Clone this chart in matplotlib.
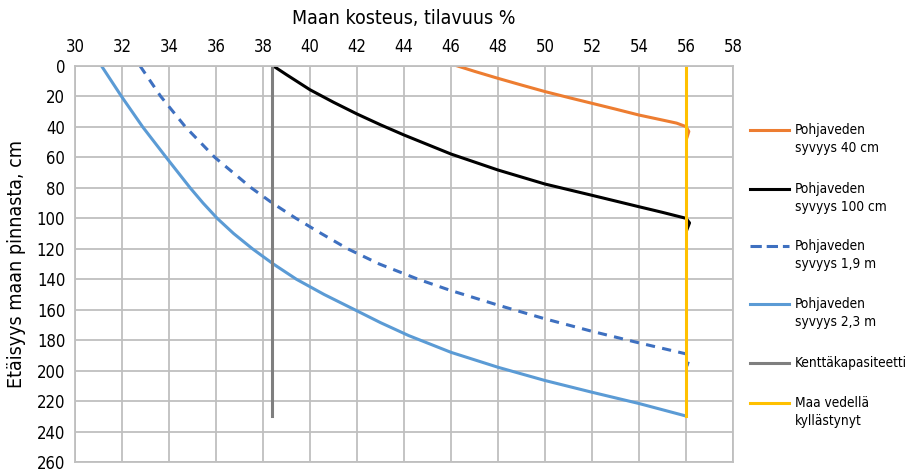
import numpy as np
import matplotlib
matplotlib.use('Agg')
import matplotlib.pyplot as plt
from matplotlib.lines import Line2D

plt.rcParams['font.family'] = ['DejaVu Sans']
plt.rcParams['font.stretch'] = 'condensed'

# data (moisture %, depth cm)
x_40cm = [46.28, 47, 48, 49, 50, 51, 52, 53, 54, 55, 55.6, 56, 56.12, 56.05]
y_40cm = [0, 3.5, 8.1, 12.5, 16.8, 20.7, 24.5, 28.3, 32.2, 35.5, 37.5, 39.8, 43, 46.5]

x_100cm = [38.44, 39, 40, 41, 42, 43, 44, 46, 48, 50, 52, 54, 55, 56, 56.15, 56.05]
y_100cm = [0, 5.7, 15.6, 23.8, 31.5, 38.6, 45.3, 57.8, 68.3, 77.5, 84.9, 92.4, 96.1, 100, 103, 107]

x_19m = [32.77, 33.65, 34.7, 35.95, 37.5, 38.4, 39.4, 40.48, 41.6, 42.95, 44.6, 45.95,
         48, 50, 52, 54, 56, 56.12, 56.04]
y_19m = [0, 20, 40, 60, 80, 90, 100, 110, 120, 130, 140, 147.2,
         157, 166, 174.2, 181.8, 189, 193, 197]

x_23m = [31.13, 31.98, 32.88, 33.88, 34.9, 35.45, 36.05, 36.75, 37.55, 38.44, 39.42, 40.6,
         41.9, 43.0, 44.2, 46, 48, 50, 52, 54, 56]
y_23m = [0, 20, 40, 60, 80, 90, 100, 110, 120, 130, 140, 150,
         160, 168.5, 177, 188, 197.8, 206.5, 214.2, 221.6, 229.8]

x_kentta = [38.4, 38.4]
y_kentta = [0, 230]

x_kyll = [56, 56]
y_kyll = [0, 230]

labels = ['Pohjaveden\nsyvyys 40 cm', 'Pohjaveden\nsyvyys 100 cm', 'Pohjaveden\nsyvyys 1,9 m',
          'Pohjaveden\nsyvyys 2,3 m', 'Kenttäkapasiteetti', 'Maa vedellä\nkyllästynyt']

W, H = 911, 474
fig = plt.figure(figsize=(W/100, H/100), dpi=100)
ax = fig.add_axes([75/W, 12/H, 658/W, 396/H])

lw = 2.2
ax.plot(x_40cm, y_40cm, color='#ED7D31', lw=lw)
ax.plot(x_100cm, y_100cm, color='#000000', lw=lw)
ax.plot(x_19m, y_19m, color='#3E70C0', lw=lw, ls=(0, (3, 2.4)))
ax.plot(x_23m, y_23m, color='#5B9BD5', lw=lw)
ax.plot(x_kentta, y_kentta, color='#7F7F7F', lw=lw)
ax.plot(x_kyll, y_kyll, color='#FFC000', lw=lw)

ax.set_xlim(30, 58)
ax.set_ylim(260, 0)
ax.set_xticks(np.arange(30, 59, 2))
ax.set_yticks(np.arange(0, 261, 20))
ax.xaxis.tick_top()
ax.xaxis.set_label_position('top')
ax.tick_params(length=0, labelsize=12, pad=7)
ax.grid(True, color='#BFBFBF', lw=1.3)
ax.set_axisbelow(True)
for s in ax.spines.values():
    s.set_color('#BFBFBF')
    s.set_linewidth(1.3)

ax.set_xlabel('Maan kosteus, tilavuus %', fontsize=14, labelpad=10)
ax.set_ylabel('Etäisyys maan pinnasta, cm', fontsize=14, labelpad=8)

# legend drawn by hand so the marker sits on the first text line like in the original
leg_y = [130, 188.7, 245.7, 304, 362.7, 403.3]
for line, lab, py in zip(ax.get_lines(), labels, leg_y):
    yf = 1 - py / H
    fig.add_artist(Line2D([750/W, 789/W], [yf, yf], transform=fig.transFigure,
                          color=line.get_color(), lw=lw, ls=line.get_linestyle()))
    for i, part in enumerate(lab.split('\n')):
        fig.text(795/W, 1 - (py + i*18) / H, part, fontsize=9.8, va='center', ha='left')

fig.savefig('out.png', dpi=100)
